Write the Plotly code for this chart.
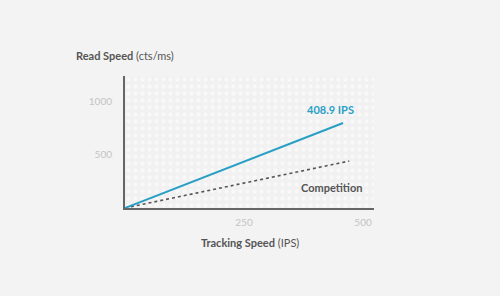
import plotly.graph_objects as go

# Data
tracking_ips = [0, 458]
read_speed_ours = [0, 802]
read_speed_comp_x = [0, 471]
read_speed_comp = [0, 443]
x_ticks = [250, 500]
y_ticks = [500, 1000]
x_range = [0, 523]
y_range = [0, 1245]

FONT = "Lato"
fig = go.Figure()

# dotted background panel
fig.add_trace(go.Scatter(
    x=[x_range[0], x_range[1], x_range[1], x_range[0], x_range[0]],
    y=[y_range[0], y_range[0], y_range[1], y_range[1], y_range[0]],
    mode="none", fill="toself", fillcolor="rgba(0,0,0,0)",
    fillpattern=dict(shape=".", fgcolor="#ffffff", bgcolor="#f1f1f1", size=7, solidity=0.3),
    hoverinfo="skip", showlegend=False,
))

fig.add_trace(go.Scatter(
    x=read_speed_comp_x, y=read_speed_comp, mode="lines",
    line=dict(color="#555555", width=1.6, dash="dot"), showlegend=False,
))
fig.add_trace(go.Scatter(
    x=tracking_ips, y=read_speed_ours, mode="lines",
    line=dict(color="#2a9fc6", width=2), showlegend=False,
))

fig.add_annotation(x=tracking_ips[1], y=read_speed_ours[1], xref="x", yref="y",
                   text="<b>408.9 IPS</b>", showarrow=False, xanchor="right", yanchor="middle",
                   xshift=13, yshift=13, font=dict(family=FONT, size=11, color="#2a9fc6"))
fig.add_annotation(x=read_speed_comp_x[1], y=read_speed_comp[1], xref="x", yref="y",
                   text="<b>Competition</b>", showarrow=False, xanchor="right", yanchor="middle",
                   xshift=15, yshift=-26, font=dict(family=FONT, size=11, color="#555555"))

fig.add_annotation(x=-0.205, y=1.159, xref="paper", yref="paper",
                   text="<b>Read Speed</b> (cts/ms)", showarrow=False, xanchor="left", yanchor="middle",
                   font=dict(family=FONT, size=11, color="#555555"))
fig.add_annotation(x=0.5, y=-0.258, xref="paper", yref="paper",
                   text="<b>Tracking Speed</b> (IPS)", showarrow=False, xanchor="center", yanchor="middle",
                   font=dict(family=FONT, size=11, color="#555555"))

fig.update_xaxes(range=x_range, tickvals=x_ticks, ticktext=[str(v) for v in x_ticks],
                 showgrid=False, zeroline=False, showline=True, linecolor="#666666", linewidth=2,
                 ticks="", ticklabelstandoff=4, tickfont=dict(family=FONT, size=10, color="#c4c4c4"))
fig.update_yaxes(range=y_range, tickvals=y_ticks, ticktext=[str(v) for v in y_ticks],
                 showgrid=False, zeroline=False, showline=True, linecolor="#666666", linewidth=2,
                 ticks="", ticklabelstandoff=9, tickfont=dict(family=FONT, size=10, color="#c4c4c4"))

fig.update_layout(
    width=500, height=296,
    margin=dict(l=125, r=126, t=76, b=88),
    paper_bgcolor="#f3f3f3", plot_bgcolor="#f3f3f3",
    showlegend=False,
)

fig.write_html("out.html")
